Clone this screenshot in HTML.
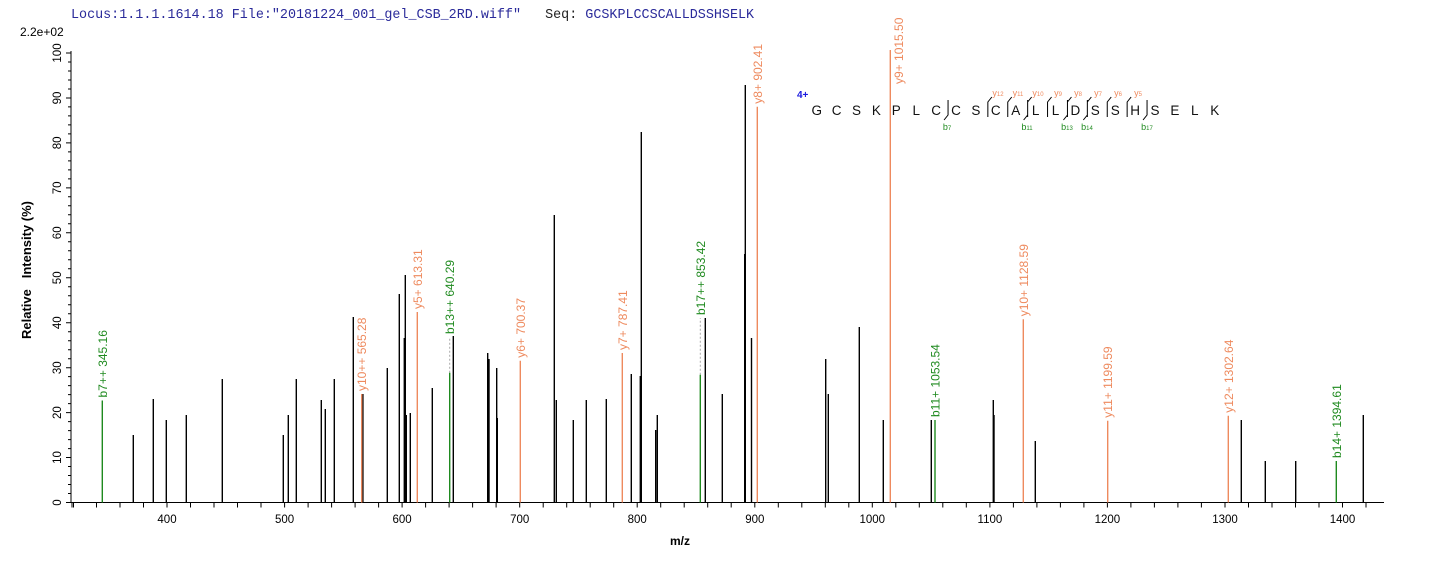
<!DOCTYPE html>
<html><head><meta charset="utf-8"><style>
html,body{margin:0;padding:0;background:#fff;}
svg{display:block;}
</style></head><body>
<svg width="1436" height="562" viewBox="0 0 1436 562" xmlns="http://www.w3.org/2000/svg" font-family="Liberation Sans, Arial, sans-serif">
<text x="71" y="18" font-family="Liberation Mono, monospace" font-size="13.4" fill="#2a2a9a" xml:space="preserve">Locus:1.1.1.1614.18 File:"20181224_001_gel_CSB_2RD.wiff"   <tspan fill="#222">Seq:</tspan> GCSKPLCCSCALLDSSHSELK</text>
<text x="20" y="36" font-size="12" fill="#000">2.2e+02</text>
<text transform="translate(31,270) rotate(-90)" text-anchor="middle" font-size="13" font-weight="bold" xml:space="preserve">Relative   Intensity (%)</text>
<text x="680" y="545" text-anchor="middle" font-size="12" font-weight="bold">m/z</text>

<g stroke="#000" stroke-width="1" fill="none">
<path d="M71,51V502.5H1384"/>
<path d="M66,502.5h5M68,493.5h3M68,484.5h3M68,475.5h3M68,466.5h3M66,457.5h5M68,448.6h3M68,439.6h3M68,430.6h3M68,421.6h3M66,412.6h5M68,403.6h3M68,394.6h3M68,385.6h3M68,376.6h3M66,367.7h5M68,358.7h3M68,349.7h3M68,340.7h3M68,331.7h3M66,322.7h5M68,313.7h3M68,304.7h3M68,295.7h3M68,286.7h3M66,277.8h5M68,268.8h3M68,259.8h3M68,250.8h3M68,241.8h3M66,232.8h5M68,223.8h3M68,214.8h3M68,205.8h3M68,196.8h3M66,187.9h5M68,178.9h3M68,169.9h3M68,160.9h3M68,151.9h3M66,142.9h5M68,133.9h3M68,124.9h3M68,115.9h3M68,106.9h3M66,98h5M68,89h3M68,80h3M68,71h3M68,62h3M66,53h5"/>
<path d="M72,502.5v5M73.5,502.5v5M96.5,502.5v5M120,502.5v5M143.5,502.5v5M167,502.5v5M190.5,502.5v5M214,502.5v5M237.5,502.5v5M261,502.5v5M284.6,502.5v5M308.1,502.5v5M331.6,502.5v5M355.1,502.5v5M378.6,502.5v5M402.1,502.5v5M425.6,502.5v5M449.1,502.5v5M472.6,502.5v5M496.1,502.5v5M519.7,502.5v5M543.2,502.5v5M566.7,502.5v5M590.2,502.5v5M613.7,502.5v5M637.2,502.5v5M660.7,502.5v5M684.2,502.5v5M707.7,502.5v5M731.2,502.5v5M754.8,502.5v5M778.3,502.5v5M801.8,502.5v5M825.3,502.5v5M848.8,502.5v5M872.3,502.5v5M895.8,502.5v5M919.3,502.5v5M942.8,502.5v5M966.3,502.5v5M989.9,502.5v5M1013.4,502.5v5M1036.9,502.5v5M1060.4,502.5v5M1083.9,502.5v5M1107.4,502.5v5M1130.9,502.5v5M1154.4,502.5v5M1177.9,502.5v5M1201.4,502.5v5M1225,502.5v5M1248.5,502.5v5M1272,502.5v5M1295.5,502.5v5M1319,502.5v5M1342.5,502.5v5M1366,502.5v5"/>
</g>

<g font-size="11.5" text-anchor="middle">
<text transform="translate(61,502.5) rotate(-90)">0</text>
<text transform="translate(61,457.5) rotate(-90)">10</text>
<text transform="translate(61,412.6) rotate(-90)">20</text>
<text transform="translate(61,367.7) rotate(-90)">30</text>
<text transform="translate(61,322.7) rotate(-90)">40</text>
<text transform="translate(61,277.8) rotate(-90)">50</text>
<text transform="translate(61,232.8) rotate(-90)">60</text>
<text transform="translate(61,187.9) rotate(-90)">70</text>
<text transform="translate(61,142.9) rotate(-90)">80</text>
<text transform="translate(61,98) rotate(-90)">90</text>
<text transform="translate(61,53) rotate(-90)">100</text>
<text x="167" y="523">400</text>
<text x="284.6" y="523">500</text>
<text x="402.1" y="523">600</text>
<text x="519.7" y="523">700</text>
<text x="637.2" y="523">800</text>
<text x="754.8" y="523">900</text>
<text x="872.3" y="523">1000</text>
<text x="989.9" y="523">1100</text>
<text x="1107.4" y="523">1200</text>
<text x="1225" y="523">1300</text>
<text x="1342.5" y="523">1400</text>
</g>

<path stroke="#000" stroke-width="1.4" fill="none" d="M133.3,502.5V435M153.3,502.5V399M166.3,502.5V420M186.3,502.5V415M222.3,502.5V379M283.3,502.5V435M288.3,502.5V415M296.3,502.5V379M321.3,502.5V400M325.3,502.5V409M334.3,502.5V379M353.3,502.5V317M362.9,502.5V394M387.3,502.5V368M399.3,502.5V294M405.3,502.5V275M404.3,502.5V338M406.3,502.5V415M410.3,502.5V413M432.3,502.5V388M453.3,502.5V336M487.7,502.5V353M489,502.5V359M496.7,502.5V368M497.3,502.5V418M554.3,502.5V215M556.3,502.5V400M573.3,502.5V420M586.3,502.5V400M606.3,502.5V399M631.3,502.5V374M640.3,502.5V376M641.3,502.5V132M655.7,502.5V430M657.3,502.5V415M705.3,502.5V318M722.3,502.5V394M744.7,502.5V254M745.3,502.5V85M751.5,502.5V338M825.7,502.5V359M828.3,502.5V394M859.3,502.5V327M883.3,502.5V420M931.3,502.5V420M993.3,502.5V400M994,502.5V415M1035.3,502.5V441M1241.3,502.5V420M1265.3,502.5V461M1295.7,502.5V461M1363.3,502.5V415"/>

<path stroke="#aaa" stroke-width="1" stroke-dasharray="2,2" fill="none" d="M449.7,372.7V337M700.3,374.7V318"/>
<path stroke="#1f8a1f" stroke-width="1.4" fill="none" d="M102.3,502.5V400.5M449.7,502.5V372.7M700.3,502.5V374.7M935,502.5V420M1336.3,502.5V461"/>
<path stroke="#ee8a5e" stroke-width="1.4" fill="none" d="M361.7,502.5V394M417.3,502.5V312M520.3,502.5V360.7M622.3,502.5V353M757.3,502.5V106.7M890.3,502.5V50M1023.3,502.5V319.3M1107.7,502.5V420.7M1228.3,502.5V415.7"/>

<g font-size="12" fill="#1f8a1f">
<text transform="translate(106.8,397.5) rotate(-90)">b7++ 345.16</text>
<text transform="translate(454.2,334) rotate(-90)">b13++ 640.29</text>
<text transform="translate(704.8,315) rotate(-90)">b17++ 853.42</text>
<text transform="translate(939.5,417) rotate(-90)">b11+ 1053.54</text>
<text transform="translate(1340.8,458) rotate(-90)">b14+ 1394.61</text>
</g>
<g font-size="12" fill="#ee8a5e">
<text transform="translate(366.2,391) rotate(-90)">y10++ 565.28</text>
<text transform="translate(421.8,309) rotate(-90)">y5+ 613.31</text>
<text transform="translate(524.8,357.7) rotate(-90)">y6+ 700.37</text>
<text transform="translate(626.8,350) rotate(-90)">y7+ 787.41</text>
<text transform="translate(761.8,103.7) rotate(-90)">y8+ 902.41</text>
<text transform="translate(903,84) rotate(-90)">y9+ 1015.50</text>
<text transform="translate(1027.8,316.3) rotate(-90)">y10+ 1128.59</text>
<text transform="translate(1112.2,417.7) rotate(-90)">y11+ 1199.59</text>
<text transform="translate(1232.8,412.7) rotate(-90)">y12+ 1302.64</text>
</g>

<text x="797" y="98" font-size="10" font-weight="bold" fill="#1a1adf">4+</text>
<text y="115" font-size="13.5" fill="#111" text-anchor="middle" x="816.7 836.6 856.5 876.4 896.3 916.2 936.1 956.0 975.9 995.8 1015.7 1035.6 1055.5 1075.4 1095.3 1115.2 1135.1 1155.0 1174.9 1194.8 1214.7">GCSKPLCCSCALLDSSHSELK</text>
<path stroke="#000" stroke-width="1" fill="none" d="M987.85,117V102l4,-5M1007.75,117V102l4,-5M1027.65,117V102l4,-5M1047.55,117V102l4,-5M1067.45,117V102l4,-5M1087.35,117V102l4,-5M1107.25,117V102l4,-5M1127.15,117V102l4,-5M948.05,100V115l-4,5M1027.65,100V115l-4,5M1067.45,100V115l-4,5M1087.35,100V115l-4,5M1147.05,100V115l-4,5"/>
<g font-size="9" fill="#ee8a5e" text-anchor="middle">
<text x="998" y="96">y<tspan font-size="6">12</tspan></text>
<text x="1018" y="96">y<tspan font-size="6">11</tspan></text>
<text x="1038" y="96">y<tspan font-size="6">10</tspan></text>
<text x="1058" y="96">y<tspan font-size="6">9</tspan></text>
<text x="1078" y="96">y<tspan font-size="6">8</tspan></text>
<text x="1098" y="96">y<tspan font-size="6">7</tspan></text>
<text x="1118" y="96">y<tspan font-size="6">6</tspan></text>
<text x="1138" y="96">y<tspan font-size="6">5</tspan></text>
</g>
<g font-size="9" fill="#1f8a1f" text-anchor="middle">
<text x="947" y="130">b<tspan font-size="6">7</tspan></text>
<text x="1027" y="130">b<tspan font-size="6">11</tspan></text>
<text x="1067" y="130">b<tspan font-size="6">13</tspan></text>
<text x="1087" y="130">b<tspan font-size="6">14</tspan></text>
<text x="1147" y="130">b<tspan font-size="6">17</tspan></text>
</g>
</svg>
</body></html>
